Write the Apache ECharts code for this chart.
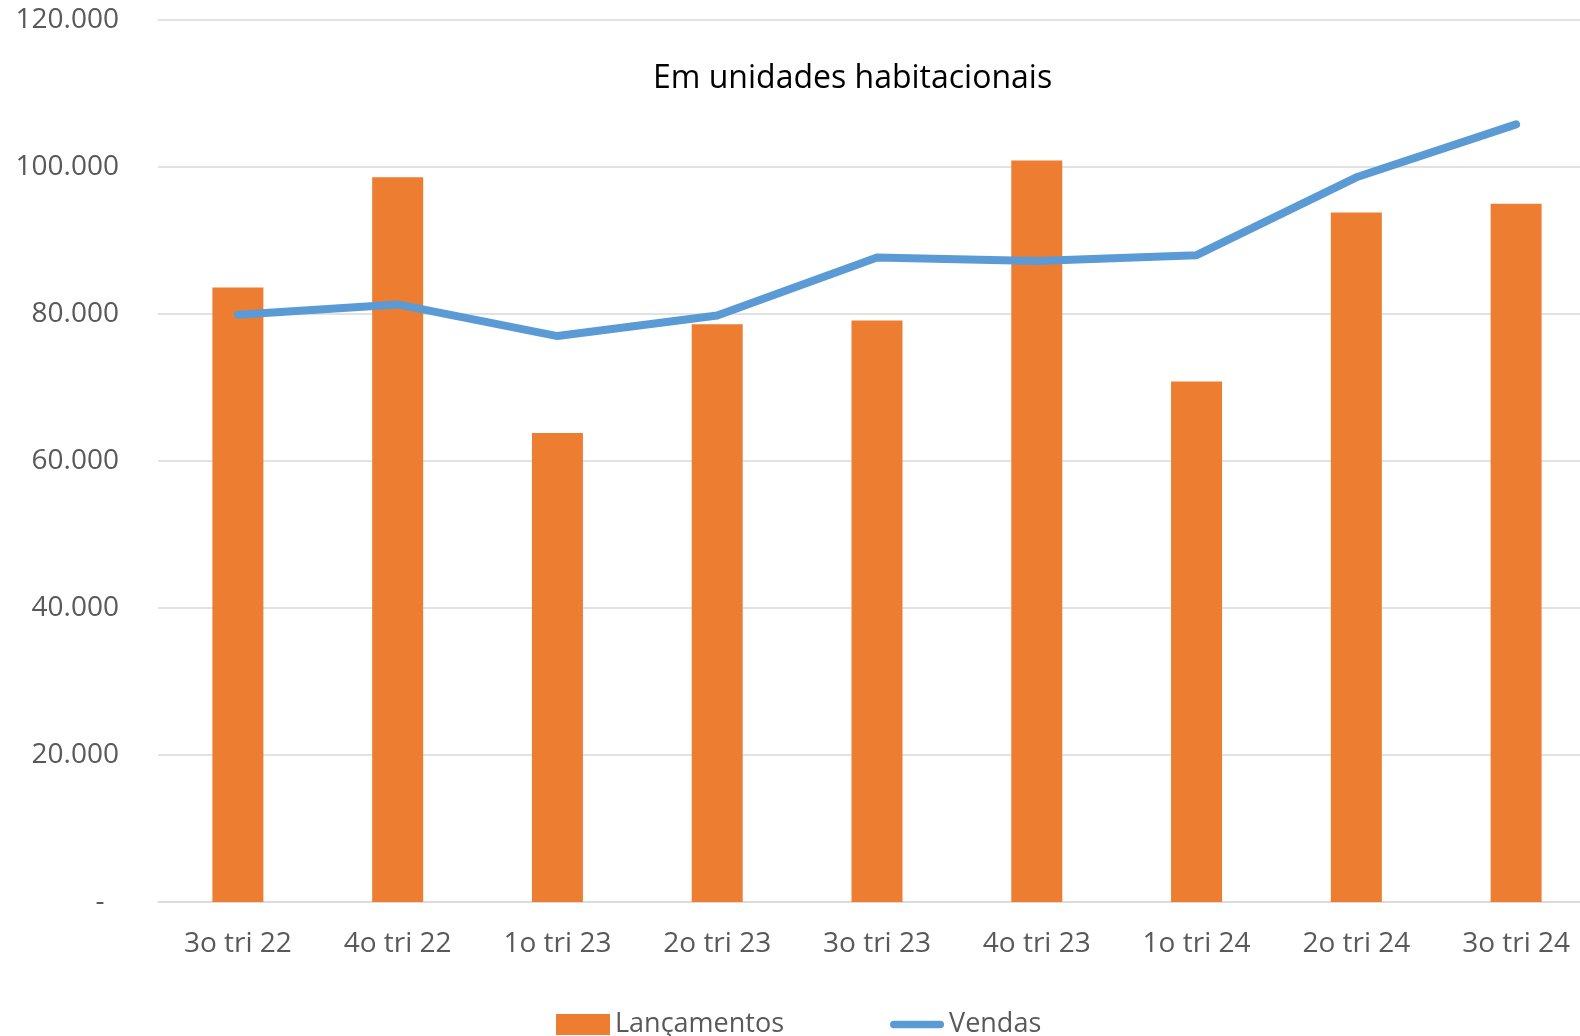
<!DOCTYPE html>
<html>
<head>
<meta charset="utf-8">
<title>Lançamentos e Vendas</title>
<script src="https://cdn.jsdelivr.net/npm/echarts@6/dist/echarts.min.js"></script>
<style>
    html, body { margin: 0; padding: 0; background: #fff; overflow: hidden; }
    #chart { width: 1580px; height: 1036px; }
</style>
</head>
<body>
<div id="chart"></div>
<script>
// dados
const categories = ['3o tri 22', '4o tri 22', '1o tri 23', '2o tri 23', '3o tri 23', '4o tri 23', '1o tri 24', '2o tri 24', '3o tri 24']
const lancamentos = [83600, 98600, 63800, 78600, 79100, 100900, 70800, 93800, 95000]
const vendas = [79900, 81300, 77000, 79800, 87700, 87200, 88000, 98600, 105800]
const yTicks = [0, 20000, 40000, 60000, 80000, 100000, 120000]

const fontFamily = '"Open Sans", "Noto Sans", sans-serif'
const labelColor = '#595959'

// separador de milhar no formato brasileiro
function fmt(v) {
    if (v === 0) return '-  '
    return String(v).replace(/\B(?=(\d{3})+(?!\d))/g, '.')
}

const chart = echarts.init(document.getElementById('chart'))

const option = {
    animation: false,
    textStyle: { fontFamily: fontFamily },
    title: {
        text: 'Em unidades habitacionais',
        left: 648,
        top: 58,
        textStyle: {
            color: '#000',
            fontSize: 32,
            fontWeight: 'normal',
            fontFamily: fontFamily
        }
    },
    // a área do gráfico passa um pouco da borda direita, como no original
    grid: {
        left: 158,
        width: 1438,
        top: 20,
        bottom: 134,
        outerBoundsMode: 'none',
        containLabel: false
    },
    legend: {
        left: 551,
        top: 1006,
        itemWidth: 54,
        itemHeight: 21,
        itemGap: 106,
        textStyle: {
            color: labelColor,
            fontSize: 27,
            fontFamily: fontFamily
        },
        data: [
            { name: 'Lançamentos', icon: 'rect' },
            {
                name: 'Vendas',
                // traço arredondado no lugar do símbolo padrão
                icon: 'path://M4,0 L54,0 A4,4 0 0 1 54,8 L4,8 A4,4 0 0 1 4,0 Z',
                itemStyle: { color: '#5B9BD5' }
            }
        ]
    },
    xAxis: {
        type: 'category',
        data: categories,
        axisLine: { lineStyle: { color: '#d9d9d9', width: 1.5 } },
        axisTick: { show: false },
        axisLabel: {
            color: labelColor,
            fontSize: 28,
            margin: 28,
            interval: 0
        }
    },
    yAxis: {
        type: 'value',
        min: yTicks[0],
        max: yTicks[yTicks.length - 1],
        interval: yTicks[1] - yTicks[0],
        axisLine: { show: false },
        axisTick: { show: false },
        splitLine: { lineStyle: { color: '#d9d9d9', width: 1.5 } },
        axisLabel: {
            color: labelColor,
            fontSize: 28,
            margin: 39,
            formatter: fmt
        }
    },
    series: [
        {
            name: 'Lançamentos',
            type: 'bar',
            data: lancamentos,
            barWidth: 51,
            itemStyle: { color: '#ED7D31' }
        },
        {
            name: 'Vendas',
            type: 'line',
            data: vendas,
            symbol: 'none',
            lineStyle: { color: '#5B9BD5', width: 8, cap: 'round', join: 'round' },
            itemStyle: { color: '#5B9BD5' }
        }
    ]
}

chart.setOption(option)
</script>
</body>
</html>
